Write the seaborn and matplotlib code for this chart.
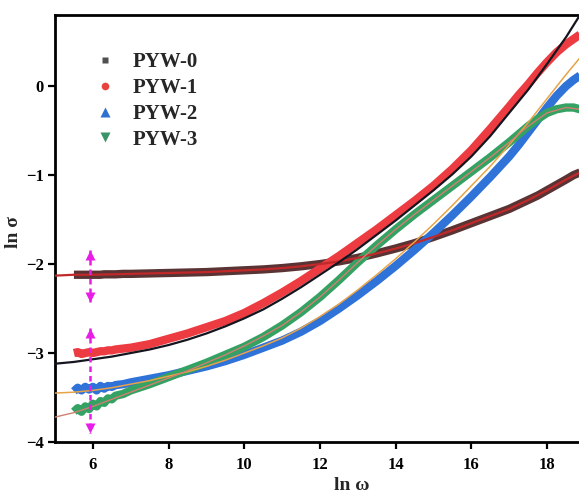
import numpy as np
import pandas as pd
import matplotlib
matplotlib.use("Agg")
import matplotlib.pyplot as plt
from matplotlib.lines import Line2D
import seaborn as sns

# ---- measured conductivity spectra (ln sigma vs ln omega) ----
ln_omega = [5.5, 5.6, 5.7, 5.8, 5.9, 6.0, 6.1, 6.2, 6.3, 6.4, 6.5, 6.6, 6.8, 7.0,
            7.5, 8.0, 8.5, 9.0, 9.5, 10.0, 10.5, 11.0, 11.5, 12.0, 12.5, 13.0,
            13.5, 14.0, 14.5, 15.0, 15.5, 16.0, 16.5, 17.0, 17.25, 17.5, 17.75,
            18.0, 18.25, 18.5, 18.7, 18.87]

pyw0 = [-2.12, -2.12, -2.12, -2.12, -2.12, -2.12, -2.12, -2.12, -2.115, -2.115,
        -2.115, -2.115, -2.11, -2.11, -2.105, -2.10, -2.095, -2.09, -2.08, -2.07,
        -2.06, -2.045, -2.025, -2.00, -1.97, -1.93, -1.88, -1.825, -1.765, -1.695,
        -1.62, -1.54, -1.46, -1.38, -1.33, -1.28, -1.23, -1.17, -1.11, -1.05,
        -1.00, -0.97]

pyw1 = [-3.00, -2.99, -3.01, -3.00, -2.99, -3.00, -2.99, -2.98, -2.98, -2.97,
        -2.97, -2.96, -2.95, -2.94, -2.90, -2.84, -2.78, -2.71, -2.64, -2.55,
        -2.44, -2.32, -2.19, -2.05, -1.91, -1.76, -1.61, -1.45, -1.29, -1.12,
        -0.93, -0.72, -0.48, -0.23, -0.10, 0.02, 0.15, 0.27, 0.38, 0.47,
        0.53, 0.58]

pyw2 = [-3.43, -3.39, -3.42, -3.38, -3.41, -3.38, -3.42, -3.37, -3.40, -3.37,
        -3.38, -3.36, -3.35, -3.33, -3.29, -3.25, -3.20, -3.15, -3.09, -3.02,
        -2.94, -2.86, -2.76, -2.64, -2.50, -2.35, -2.19, -2.02, -1.84, -1.65,
        -1.45, -1.24, -1.02, -0.79, -0.66, -0.52, -0.38, -0.24, -0.11, 0.00,
        0.07, 0.12]

pyw3 = [-3.66, -3.62, -3.66, -3.60, -3.63, -3.57, -3.60, -3.54, -3.56, -3.51,
        -3.52, -3.48, -3.46, -3.42, -3.35, -3.27, -3.19, -3.11, -3.02, -2.93,
        -2.82, -2.69, -2.54, -2.37, -2.18, -1.98, -1.79, -1.61, -1.44, -1.28,
        -1.12, -0.96, -0.80, -0.63, -0.54, -0.45, -0.37, -0.30, -0.26, -0.24,
        -0.24, -0.26]

# ---- Jonscher power-law fits ----
fit_omega = [5.0, 5.5, 6.0, 6.5, 7.0, 7.5, 8.0, 8.5, 9.0, 9.5, 10.0, 10.5, 11.0,
             11.5, 12.0, 12.5, 13.0, 13.5, 14.0, 14.5, 15.0, 15.5, 16.0, 16.5,
             17.0, 17.5, 18.0, 18.5, 18.87]

fit0 = [-2.13, -2.12, -2.12, -2.115, -2.11, -2.105, -2.10, -2.095, -2.09, -2.08,
        -2.07, -2.06, -2.045, -2.025, -2.00, -1.97, -1.93, -1.88, -1.825, -1.765,
        -1.695, -1.62, -1.54, -1.46, -1.38, -1.28, -1.17, -1.05, -0.97]

fit1 = [-3.12, -3.10, -3.07, -3.04, -3.00, -2.96, -2.91, -2.85, -2.78, -2.70,
        -2.61, -2.51, -2.39, -2.26, -2.12, -1.98, -1.83, -1.67, -1.51, -1.34,
        -1.17, -0.99, -0.79, -0.56, -0.30, -0.04, 0.25, 0.55, 0.80]

fit2 = [-3.45, -3.44, -3.42, -3.39, -3.35, -3.31, -3.26, -3.21, -3.15, -3.08,
        -3.00, -2.92, -2.83, -2.72, -2.59, -2.45, -2.29, -2.12, -1.94, -1.75,
        -1.55, -1.34, -1.12, -0.90, -0.66, -0.41, -0.14, 0.13, 0.32]

fit3 = [-3.72, -3.67, -3.60, -3.52, -3.44, -3.36, -3.28, -3.20, -3.11, -3.02,
        -2.92, -2.81, -2.69, -2.54, -2.37, -2.18, -1.98, -1.79, -1.61, -1.44,
        -1.28, -1.12, -0.96, -0.80, -0.63, -0.45, -0.30, -0.24, -0.26]

labels = ["PYW-0", "PYW-1", "PYW-2", "PYW-3"]
band_colors = ["#5a3434", "#ec3c42", "#2f72d8", "#33a263"]
legend_colors = ["#505050", "#e8443e", "#2f6fd0", "#3a9468"]
legend_markers = ["s", "o", "^", "v"]
legend_sizes = [5.0, 5.5, 7.0, 7.0]
fit_colors = ["#c0282a", "#15151f", "#e8a348", "#d08070"]
fit_widths = [1.6, 1.6, 1.1, 1.0]

# marker lines at ln(omega) ~ 5.93
guide_x = 5.93
guide_spans = [(-1.84, -2.43), (-2.72, -3.90)]

data = pd.concat(
    [pd.DataFrame({"ln_omega": ln_omega, "ln_sigma": ys, "sample": lab})
     for lab, ys in zip(labels, [pyw0, pyw1, pyw2, pyw3])],
    ignore_index=True)
fits = pd.concat(
    [pd.DataFrame({"ln_omega": fit_omega, "ln_sigma": ys, "sample": lab})
     for lab, ys in zip(labels, [fit0, fit1, fit2, fit3])],
    ignore_index=True)

sns.set_theme(style="ticks")
plt.rcParams["font.family"] = ["Liberation Serif", "DejaVu Serif"]
plt.rcParams["font.weight"] = "bold"
plt.rcParams["axes.labelweight"] = "bold"

fig = plt.figure(figsize=(5.79, 4.96), dpi=100)
ax = fig.add_axes([55 / 579, 54 / 496, 525 / 579, 427 / 496])

# thick bands of densely measured points
sns.lineplot(data=data, x="ln_omega", y="ln_sigma", hue="sample",
             palette=dict(zip(labels, band_colors)), linewidth=6.0,
             legend=False, sort=False, estimator=None, ax=ax,
             solid_capstyle="butt", zorder=2)

# fitted curves on top
for lab, col, lw in zip(labels, fit_colors, fit_widths):
    sub = fits[fits["sample"] == lab]
    sns.lineplot(data=sub, x="ln_omega", y="ln_sigma", color=col,
                 linewidth=lw, legend=False, sort=False, estimator=None,
                 ax=ax, zorder=3)

# dashed magenta guides with arrow heads
for top, bottom in guide_spans:
    ax.plot([guide_x, guide_x], [top, bottom], color="#e81ee8", lw=1.8,
            ls=(0, (2.2, 1.6)), zorder=4)
    ax.plot([guide_x], [top - 0.06], marker="^", color="#e81ee8", ms=6.5,
            mec="none", zorder=4)
    ax.plot([guide_x], [bottom + 0.06], marker="v", color="#e81ee8", ms=6.5,
            mec="none", zorder=4)

ax.set_xlim(5, 18.87)
ax.set_ylim(-4, 0.8)
ax.set_xticks([6, 8, 10, 12, 14, 16, 18])
ax.set_yticks([-4, -3, -2, -1, 0])
ax.set_xlabel("ln ω", fontsize=14, fontweight="bold")
ax.set_ylabel("ln σ", fontsize=14, fontweight="bold")
ax.xaxis.set_label_coords(0.566, -0.083)
ax.yaxis.set_label_coords(-0.062, 0.492)

for side in ["left", "bottom", "top"]:
    ax.spines[side].set_linewidth(2.0)
    ax.spines[side].set_color("black")
ax.spines["right"].set_visible(False)
ax.tick_params(axis="both", direction="out", length=5, width=1.6,
               labelsize=12, pad=3, colors="black")
ax.tick_params(axis="x", pad=6)
for t in ax.get_xticklabels() + ax.get_yticklabels():
    t.set_fontweight("bold")

handles = [Line2D([], [], ls="none", marker=m, color=c, ms=s, mec="none")
           for m, c, s in zip(legend_markers, legend_colors, legend_sizes)]
leg = ax.legend(handles, labels, loc="upper left", bbox_to_anchor=(0.0745, 0.913),
                frameon=False, fontsize=15, handletextpad=0.87, borderpad=0,
                labelspacing=0.28, handlelength=1.0, borderaxespad=0)
for t in leg.get_texts():
    t.set_fontweight("bold")

fig.savefig("out.png", dpi=100)
